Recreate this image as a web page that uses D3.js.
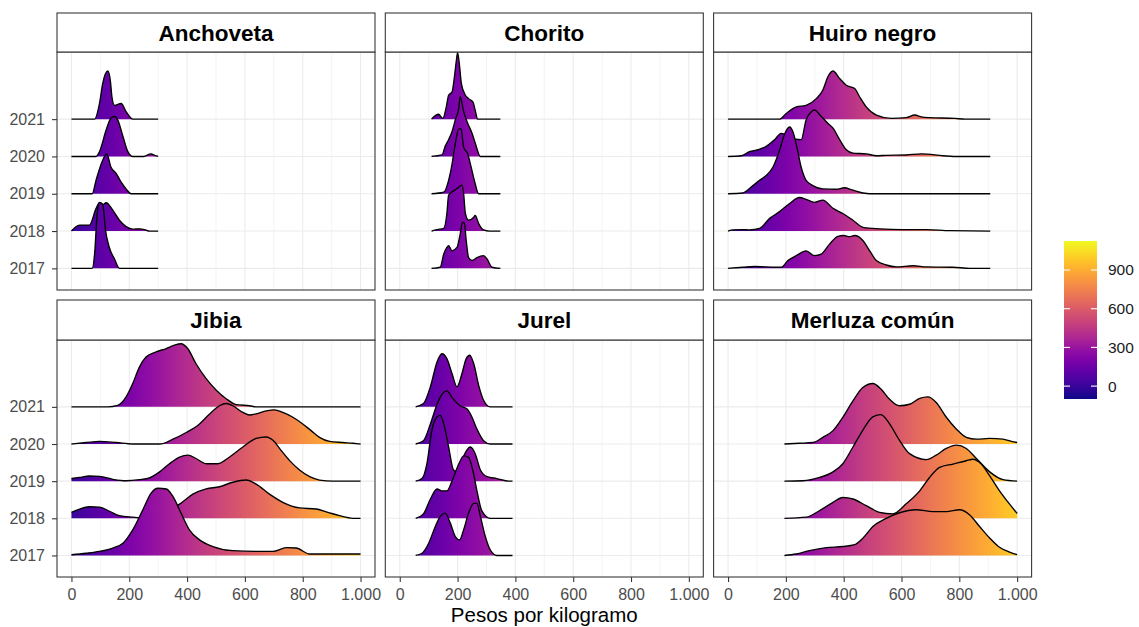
<!DOCTYPE html>
<head>
  <meta charset="utf-8">
  <title>Ridges</title>
  <script src="https://d3js.org/d3.v7.min.js"></script>
  <style>
  body {margin: 0; background: white;}
  text {font-family: "Liberation Sans", Arial, sans-serif;}
  .strip {font-weight: bold; font-size: 22.5px; text-anchor: middle; fill: black;}
  .tick text {font-size: 16px; fill: #4d4d4d;}
  .grid-major {stroke: #ebebeb; stroke-width: 1.07px;}
  .grid-minor {stroke: #ebebeb; stroke-width: 0.53px;}
  .border {fill: none; stroke: #333333; stroke-width: 1.07px;}
  </style>
</head>
<body>
  <svg id="chart" width="1139" height="627"></svg>
  <script>
  var species = ["Anchoveta", "Chorito", "Huiro negro", "Jibia", "Jurel", "Merluza común"];
  var years = [2017, 2018, 2019, 2020, 2021];
  var xTicks = [0, 200, 400, 600, 800, 1000];
  var xMinor = [100, 300, 500, 700, 900];
  var colorTicks = [0, 300, 600, 900];
  var colorLimits = [-100, 1125];

  // ridges per species, ordered 2017..2021, points are [pesos, height in rows]
  var anchoveta = [
    [[0,0],[72,0],[80,0.38],[89,1.46],[97,1.77],[108,1.72],[118,1.01],[131,0.56],[149,0.25],[166,0],[300,0]],
    [[0,0],[28,0.16],[62,0.16],[85,0.6],[97,0.76],[108,0.7],[120,0.76],[143,0.56],[166,0.29],[189,0.12],[212,0.05],[235,0.06],[253,0.04],[270,0],[300,0]],
    [[0,0],[72,0],[85,0.36],[103,0.8],[122,1.07],[137,0.71],[155,0.54],[172,0.31],[189,0.13],[206,0],[300,0]],
    [[0,0],[85,0],[97,0.13],[120,0.71],[137,1.03],[149,1.07],[160,0.98],[178,0.54],[195,0.13],[212,0],[250,0],[275,0.07],[290,0.02],[300,0]],
    [[0,0],[80,0],[97,0.42],[108,0.95],[126,1.29],[135,1.0],[140,0.6],[149,0.37],[172,0.42],[189,0.2],[212,0],[300,0]]
  ];
  var chorito = [
    [[110,0],[140,0.03],[152,0.38],[163,0.56],[169,0.61],[181,0.47],[198,0.56],[209,0.92],[217,1.23],[223,1.23],[230,0.74],[238,0.29],[250,0.21],[267,0.29],[290,0.34],[302,0.25],[319,0.03],[348,0]],
    [[110,0],[129,0.04],[152,0.07],[163,0.47],[169,0.96],[181,1.05],[198,1.14],[215,1.23],[221,1.0],[227,0.47],[238,0.29],[256,0.37],[261,0.42],[273,0.2],[290,0.03],[310,0],[348,0]],
    [[110,0],[152,0.04],[169,0.36],[181,0.8],[192,1.34],[204,1.74],[212,1.74],[221,1.25],[235,1.07],[247,0.71],[258,0.36],[273,0],[348,0]],
    [[110,0],[146,0.04],[157,0.27],[169,0.45],[181,0.67],[192,0.98],[204,1.29],[209,1.6],[221,1.2],[235,0.89],[250,0.62],[261,0.36],[279,0],[348,0]],
    [[110,0],[134,0.13],[149,0.02],[161,0.33],[169,0.64],[181,0.73],[189,1.13],[196,1.58],[200,1.78],[206,1.49],[213,0.96],[227,0.64],[238,0.55],[253,0.46],[261,0.24],[269,0],[348,0]]
  ];
  var huiroNegro = [
    [[0,0],[51,0.03],[92,0.05],[126,0.04],[184,0.03],[207,0.21],[236,0.34],[270,0.47],[299,0.34],[322,0.38],[351,0.65],[380,0.86],[400,0.88],[420,0.85],[438,0.88],[467,0.74],[490,0.47],[513,0.21],[547,0.09],[582,0.04],[640,0.07],[686,0.04],[778,0.03],[836,0],[907,0]],
    [[0,0],[17,0.03],[51,0.04],[74,0.03],[109,0.07],[144,0.34],[178,0.52],[213,0.74],[247,0.9],[270,0.85],[299,0.77],[328,0.83],[363,0.61],[397,0.47],[432,0.29],[467,0.1],[524,0.06],[605,0.04],[686,0.04],[767,0.01],[907,0]],
    [[0,0],[51,0.02],[80,0.18],[109,0.36],[132,0.49],[155,0.71],[178,1.16],[196,1.61],[213,1.79],[225,1.65],[238,1.25],[253,0.71],[270,0.36],[293,0.22],[328,0.13],[374,0.12],[403,0.16],[426,0.11],[467,0.02],[490,0],[907,0]],
    [[0,0],[46,0.02],[74,0.13],[103,0.18],[132,0.27],[161,0.45],[184,0.62],[215,0.5],[253,0.45],[270,0.98],[288,1.2],[299,1.25],[317,1.12],[345,0.89],[363,0.76],[386,0.45],[409,0.18],[432,0.09],[478,0.07],[513,0.02],[547,0.03],[616,0.04],[669,0.07],[743,0.02],[780,0],[907,0]],
    [[0,0],[178,0],[201,0.15],[236,0.33],[270,0.37],[305,0.55],[328,0.78],[345,1.13],[363,1.29],[386,1.09],[409,0.91],[438,0.82],[455,0.6],[478,0.33],[513,0.11],[565,0.02],[616,0.04],[646,0.11],[669,0.06],[697,0.04],[784,0.02],[820,0],[907,0]]
  ];
  var jibia = [
    [[0,0.02],[51,0.06],[97,0.11],[143,0.2],[178,0.33],[212,0.69],[247,1.23],[275,1.67],[299,1.81],[328,1.79],[351,1.59],[379,1.14],[408,0.69],[443,0.42],[489,0.24],[558,0.13],[651,0.11],[697,0.11],[743,0.21],[777,0.2],[824,0.04],[881,0.04],[1000,0.04]],
    [[0,0.16],[28,0.25],[62,0.31],[97,0.3],[132,0.19],[166,0.07],[212,0.03],[250,0.01],[290,0.08],[330,0.22],[374,0.38],[420,0.65],[466,0.79],[512,0.85],[558,0.97],[604,1.03],[639,0.92],[685,0.65],[731,0.43],[789,0.28],[847,0.25],[887,0.16],[927,0.07],[973,0],[1000,0]],
    [[0,0.07],[28,0.1],[62,0.14],[97,0.13],[143,0.05],[189,0.01],[235,0.04],[270,0.09],[305,0.25],[339,0.47],[374,0.65],[403,0.7],[431,0.61],[466,0.47],[506,0.47],[547,0.65],[593,0.92],[639,1.15],[674,1.19],[697,1.1],[725,0.83],[754,0.56],[789,0.3],[824,0.12],[858,0.03],[904,0],[1000,0]],
    [[0,0],[51,0.04],[97,0.07],[155,0.04],[212,0],[305,0],[351,0.13],[397,0.31],[443,0.54],[478,0.81],[512,1.03],[535,1.09],[558,1.03],[593,0.85],[616,0.78],[639,0.81],[674,0.89],[702,0.92],[731,0.85],[766,0.72],[800,0.54],[829,0.36],[858,0.18],[893,0.07],[939,0.04],[973,0.02],[1000,0]],
    [[0,0],[126,0],[160,0.04],[189,0.27],[212,0.63],[235,1.07],[258,1.34],[293,1.48],[328,1.57],[356,1.66],[379,1.7],[402,1.57],[431,1.16],[466,0.76],[501,0.45],[535,0.22],[570,0.06],[616,0.03],[640,0],[1000,0]]
  ];
  var jurel = [
    [[55,0],[77,0.06],[100,0.33],[123,0.78],[140,1.05],[157,1.14],[175,0.87],[192,0.51],[207,0.42],[221,0.69],[238,1.14],[256,1.4],[267,1.4],[279,1.05],[296,0.51],[313,0.15],[336,0],[390,0]],
    [[55,0],[82,0.12],[106,0.52],[129,0.79],[146,0.74],[163,0.74],[181,1.01],[204,1.46],[221,1.68],[238,1.64],[253,1.28],[267,0.74],[284,0.2],[313,0],[390,0]],
    [[55,0],[77,0.07],[94,0.47],[111,1.37],[129,1.73],[140,1.77],[152,1.55],[169,0.92],[186,0.3],[200,0.25],[215,0.56],[230,0.81],[244,0.92],[261,0.74],[279,0.3],[302,0.12],[336,0.07],[377,0],[390,0]],
    [[55,0],[82,0.09],[106,0.54],[129,1.07],[146,1.34],[163,1.43],[181,1.25],[209,1.03],[233,0.94],[250,0.72],[267,0.4],[290,0.09],[313,0],[390,0]],
    [[55,0],[82,0.09],[106,0.54],[129,1.21],[146,1.43],[163,1.3],[181,0.89],[198,0.54],[215,0.89],[230,1.3],[242,1.39],[256,1.16],[273,0.58],[290,0.18],[313,0],[390,0]]
  ];
  var merluzaComun = [
    [[195,0],[236,0.04],[282,0.13],[340,0.21],[397,0.24],[438,0.29],[467,0.47],[501,0.78],[547,1.0],[593,1.15],[651,1.23],[709,1.18],[755,1.18],[801,1.23],[836,1.09],[870,0.78],[905,0.47],[939,0.22],[974,0.09],[1000,0.02]],
    [[195,0],[271,0.03],[317,0.21],[363,0.43],[397,0.56],[432,0.52],[478,0.34],[524,0.16],[570,0.12],[616,0.39],[663,0.74],[697,1.1],[732,1.37],[778,1.46],[824,1.55],[847,1.59],[876,1.46],[905,1.14],[939,0.74],[974,0.38],[1000,0.13]],
    [[195,0],[259,0.01],[317,0.1],[363,0.25],[397,0.47],[432,0.92],[466,1.37],[501,1.73],[529,1.79],[558,1.55],[593,1.1],[628,0.74],[686,0.58],[720,0.7],[755,0.88],[790,0.97],[824,0.88],[859,0.61],[905,0.25],[951,0.04],[1000,0]],
    [[195,0],[247,0.02],[294,0.04],[328,0.18],[363,0.36],[397,0.72],[432,1.16],[466,1.52],[501,1.63],[529,1.48],[558,1.21],[593,1.03],[628,1.07],[663,1.23],[691,1.27],[720,1.12],[755,0.72],[790,0.4],[824,0.18],[859,0.13],[905,0.15],[951,0.13],[980,0.07],[1000,0.04]],
    null
  ];
  var ridges = [anchoveta, chorito, huiroNegro, jibia, jurel, merluzaComun];

  var svg = d3.select("#chart");

  // facet layout
  var panelLeft = 57, panelStep = 328.3, panelW = 318;
  var rows = [
    {stripTop: 13, top: 52, bottom: 290},
    {stripTop: 300, top: 340, bottom: 577}
  ];

  var x = d3.scaleLinear().domain([-50, 1050]).range([0, panelW]);
  var fmt = function(d) { return d3.format(",")(d).replace(",", "."); };

  // horizontal gradient in panel coordinates
  var defs = svg.append("defs");
  var grad = defs.append("linearGradient")
    .attr("id", "plasmaX")
    .attr("gradientUnits", "userSpaceOnUse")
    .attr("x1", x(colorLimits[0])).attr("x2", x(colorLimits[1]))
    .attr("y1", 0).attr("y2", 0);
  grad.selectAll("stop").data(d3.range(0, 1.0001, 0.05))
    .enter().append("stop")
    .attr("offset", function(t) { return t; })
    .attr("stop-color", function(t) { return d3.interpolatePlasma(t); });

  species.forEach(function(name, i) {
    var row = rows[Math.floor(i / 3)];
    var col = i % 3;
    var ph = row.bottom - row.top;
    var y = d3.scaleLinear().domain([0.42, 6.8]).range([ph, 0]);
    var g = svg.append("g").attr("transform", "translate(" + (panelLeft + col * panelStep) + "," + row.top + ")");

    // grid
    g.selectAll("line.minor").data(xMinor).enter().append("line")
      .attr("class", "grid-minor")
      .attr("x1", x).attr("x2", x).attr("y1", 0).attr("y2", ph);
    g.selectAll("line.major").data(xTicks).enter().append("line")
      .attr("class", "grid-major")
      .attr("x1", x).attr("x2", x).attr("y1", 0).attr("y2", ph);
    g.selectAll("line.hmajor").data(years).enter().append("line")
      .attr("class", "grid-major")
      .attr("x1", 0).attr("x2", panelW)
      .attr("y1", function(d, k) { return y(k + 1); })
      .attr("y2", function(d, k) { return y(k + 1); });

    // ridges: top row first so lower ones sit in front
    var area = d3.area().curve(d3.curveMonotoneX)
      .x(function(p) { return x(p[0]); });
    var line = d3.line().curve(d3.curveMonotoneX)
      .x(function(p) { return x(p[0]); });
    for (var k = years.length - 1; k >= 0; k--) {
      var pts = ridges[i][k];
      if (!pts) continue;
      var base = k + 1;
      area.y0(y(base)).y1(function(p) { return y(base + p[1]); });
      line.y(function(p) { return y(base + p[1]); });
      g.append("path").attr("d", area(pts)).attr("fill", "url(#plasmaX)");
      g.append("path").attr("d", line(pts)).attr("fill", "none")
        .attr("stroke", "black").attr("stroke-width", 1.35);
    }

    g.append("rect").attr("class", "border")
      .attr("width", panelW).attr("height", ph);

    // strip
    var strip = svg.append("g").attr("transform", "translate(" + (panelLeft + col * panelStep) + "," + row.stripTop + ")");
    strip.append("rect").attr("class", "border")
      .style("fill", "white")
      .attr("width", panelW).attr("height", row.top - row.stripTop);
    strip.append("text").attr("class", "strip")
      .attr("x", panelW / 2).attr("y", (row.top - row.stripTop) / 2 + 8)
      .text(name);

    // axes
    if (col === 0) {
      var ya = d3.axisLeft(y).tickValues([1, 2, 3, 4, 5])
        .tickFormat(function(d) { return years[d - 1]; })
        .tickSize(5).tickPadding(7);
      var yg = g.append("g").call(ya);
      yg.select(".domain").remove();
      yg.selectAll(".tick line").attr("stroke", "#333333").attr("stroke-width", 1.07);
      yg.selectAll(".tick text").attr("font-family", null).attr("font-size", null);
    }
    if (row === rows[1]) {
      var xa = d3.axisBottom(x).tickValues(xTicks).tickFormat(fmt).tickSize(5).tickPadding(7);
      var xg = g.append("g").attr("transform", "translate(0," + ph + ")").call(xa);
      xg.select(".domain").remove();
      xg.selectAll(".tick line").attr("stroke", "#333333").attr("stroke-width", 1.07);
      xg.selectAll(".tick text").attr("font-family", null).attr("font-size", null);
    }
  });

  // axis title
  svg.append("text")
    .attr("x", panelLeft + (2 * panelStep + panelW) / 2).attr("y", 622)
    .attr("text-anchor", "middle").attr("font-size", 20.5).attr("fill", "black")
    .text("Pesos por kilogramo");

  // colour bar legend
  var barX = 1064, barW = 33, barTop = 241, barBottom = 399;
  var cy = d3.scaleLinear().domain(colorLimits).range([barBottom, barTop]);
  var vgrad = defs.append("linearGradient")
    .attr("id", "plasmaY")
    .attr("x1", 0).attr("x2", 0).attr("y1", 1).attr("y2", 0);
  vgrad.selectAll("stop").data(d3.range(0, 1.0001, 0.05))
    .enter().append("stop")
    .attr("offset", function(t) { return t; })
    .attr("stop-color", function(t) { return d3.interpolatePlasma(t); });
  svg.append("rect").attr("x", barX).attr("y", barTop)
    .attr("width", barW).attr("height", barBottom - barTop)
    .attr("fill", "url(#plasmaY)");
  var lg = svg.append("g");
  colorTicks.forEach(function(v) {
    lg.append("line").attr("x1", barX).attr("x2", barX + 6)
      .attr("y1", cy(v)).attr("y2", cy(v)).attr("stroke", "white").attr("stroke-width", 1.1);
    lg.append("line").attr("x1", barX + barW - 6).attr("x2", barX + barW)
      .attr("y1", cy(v)).attr("y2", cy(v)).attr("stroke", "white").attr("stroke-width", 1.1);
    lg.append("text").attr("x", barX + barW + 11).attr("y", cy(v)).attr("dy", "0.35em")
      .attr("font-size", 15.5).attr("fill", "#1a1a1a").text(v);
  });
  </script>
</body>
